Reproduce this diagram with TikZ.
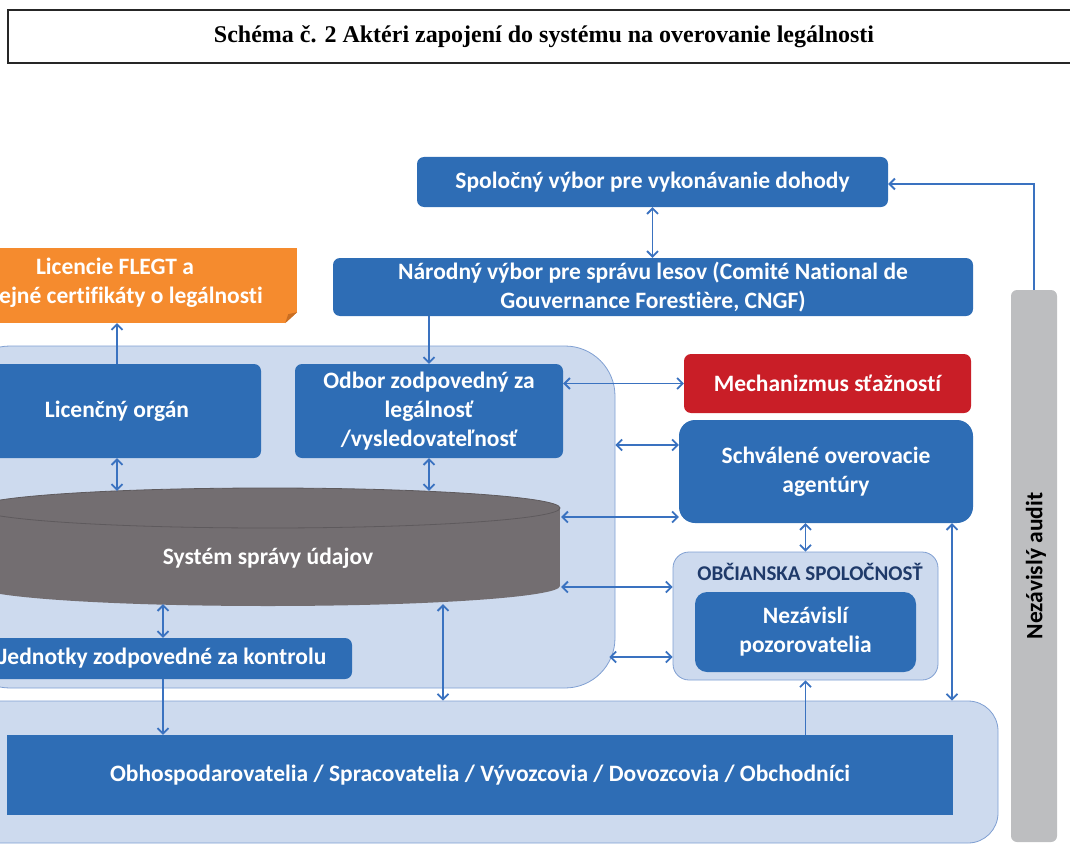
\documentclass[tikz,border=0pt]{standalone}
\usepackage{fontspec}
\setmainfont{Carlito}[Ligatures=NoCommon]
\newfontfamily\titlefont{Liberation Serif}
\usetikzlibrary{arrows.meta,calc}
\definecolor{boxblue}{HTML}{2E6DB5}
\definecolor{lightbg}{HTML}{CDDAEE}
\definecolor{lightedge}{HTML}{7F9FD2}
\definecolor{arrowblue}{HTML}{3A72C0}
\definecolor{mechred}{HTML}{C91E27}
\definecolor{flegtorange}{HTML}{F58B2E}
\definecolor{flegtfold}{HTML}{C96E22}
\definecolor{dbgray}{HTML}{736E71}
\definecolor{dbedge}{HTML}{5E5A5D}
\definecolor{auditgray}{HTML}{BDBEC0}
\definecolor{civtext}{HTML}{1F3A6A}
\begin{document}
\begin{tikzpicture}[x=1pt,y=-1pt,
  bluebox/.style={fill=boxblue, draw=none, rounded corners=7pt, text=white,
    font=\bfseries\fontsize{23.5}{29}\selectfont, align=center, inner sep=0pt},
  container/.style={fill=lightbg, draw=lightedge, line width=0.8pt, inner sep=0pt},
  conn/.style={draw=arrowblue, line width=1.8pt},
  >={Straight Barb[length=5.5pt,width=11pt]}
]
\useasboundingbox (0,0) rectangle (1070,845);
\clip (0,0) rectangle (1070,845);

% title
\node[draw=black!85, line width=1.3pt, minimum width=1072, minimum height=53, inner sep=0pt,
  font=\titlefont\bfseries\fontsize{24}{28}\selectfont] (title) at (544,36.5)
  {Schéma č. 2 Aktéri zapojení do systému na overovanie legálnosti};

% containers
\node[container, rounded corners=50pt, minimum width=655, minimum height=342] (topcont) at (287.5,517) {};
\node[container, rounded corners=30pt, minimum width=1038, minimum height=142] (botcont) at (479,772) {};
\node[container, rounded corners=16pt, minimum width=265, minimum height=128] (obc) at (805.5,616) {};
\node[font=\bfseries\fontsize{21}{24}\selectfont, text=civtext, inner sep=0pt] (obctitle) at (810,572) {OBČIANSKA SPOLOČNOSŤ};

% top boxes
\node[bluebox, minimum width=471, minimum height=50] (spol) at (652.5,182) {Spoločný výbor pre vykonávanie dohody};
\node[bluebox, minimum width=640, minimum height=58] (narod) at (653,287)
  {Národný výbor pre správu lesov (Comité National de\\Gouvernance Forestière, CNGF)};

% orange FLEGT box with folded corner
\node[fill=flegtorange, minimum width=367, minimum height=75, inner sep=0pt] (flegt) at (113.5,285.5) {};
\fill[white] ([xshift=-12pt]flegt.south east) -- (flegt.south east) -- ([yshift=11pt]flegt.south east) -- cycle;
\fill[flegtfold] ([xshift=-12pt]flegt.south east) -- ([xshift=-9pt,yshift=9pt]flegt.south east) -- ([yshift=11pt]flegt.south east) -- cycle;
\node[text=white, font=\bfseries\fontsize{23.5}{29}\selectfont, align=center, inner sep=0pt] (flegttext) at (131,283)
  {Licencie FLEGT a\hspace*{32pt}\\ejné certifikáty o legálnosti};

% inside top container
\node[bluebox, minimum width=288, minimum height=94] (licorg) at (117,411) {Licenčný orgán};
\node[bluebox, minimum width=268, minimum height=94] (odbor) at (429,411) {Odbor zodpovedný za\\legálnosť\\/vysledovateľnosť};

% database cylinder
\fill[dbgray] (-24,508) rectangle (560,586);
\fill[dbgray] (268,586) ellipse [x radius=292pt, y radius=20pt];
\filldraw[fill=dbgray, draw=dbedge, line width=0.8pt] (268,508) ellipse [x radius=292pt, y radius=20pt];
\node[minimum width=585, minimum height=113, inner sep=0pt] (db) at (268.5,547.5) {};
\node[text=white, font=\bfseries\fontsize{23.5}{28}\selectfont, inner sep=0pt] (dbtext) at (268,558) {Systém správy údajov};

\node[bluebox, minimum width=378, minimum height=41] (jedn) at (163,658.5) {Jednotky zodpovedné za kontrolu};
\node[bluebox, rounded corners=0pt, minimum width=946, minimum height=80] (obh) at (480,775)
  {Obhospodarovatelia / Spracovatelia / Vývozcovia / Dovozcovia / Obchodníci};

% right side
\node[bluebox, fill=mechred, minimum width=287, minimum height=59] (mech) at (827.5,383.5) {Mechanizmus sťažností};
\node[bluebox, rounded corners=16pt, minimum width=294, minimum height=103] (schv) at (826,471.5) {Schválené overovacie\\agentúry};
\node[bluebox, rounded corners=12pt, minimum width=221, minimum height=80] (nez) at (805.5,632) {Nezávislí\\pozorovatelia};

\node[fill=auditgray, rounded corners=6pt, minimum width=46, minimum height=552, inner sep=0pt] (audit) at (1034,566) {};
\node[rotate=90, font=\bfseries\fontsize{23.5}{28}\selectfont, text=black, inner sep=0pt] (audittext) at (1036,566) {Nezávislý audit};

% connectors
\coordinate (a13) at ([xshift=126pt]schv.south);
\coordinate (a17) at ([xshift=174.5pt]db.south);
\draw[conn,<->] (spol.south) -- (spol.south |- narod.north);
\draw[conn,->] (audit.north) |- ([yshift=-2pt]spol.east);
\draw[conn,->] (odbor.north |- narod.south) -- (odbor.north);
\draw[conn,->] (licorg.north) -- (licorg.north |- flegt.south);
\draw[conn,<->] (licorg.south) -- (licorg.south |- db.north);
\draw[conn,<->] (odbor.south) -- (odbor.south |- db.north);
\draw[conn,<->] (odbor.east |- mech.west) -- (mech.west);
\draw[conn,<->] ([yshift=72pt]topcont.east) -- ([yshift=26.5pt]schv.west);
\draw[conn,<->] ([yshift=30.5pt]db.east) -- ([yshift=-45.5pt]schv.west);
\draw[conn,<->] ([yshift=-39.5pt]db.east) -- ([yshift=29pt]obc.west);
\draw[conn,<->] ([yshift=-140pt,xshift=-6pt]topcont.east) -- ([yshift=-41pt]obc.west);
\draw[conn,<->] (obc.north |- schv.south) -- (obc.north);
\draw[conn,<->] (a13) -- (a13 |- botcont.north);
\draw[conn,->] (obh.north -| obc.south) -- (obc.south);
\draw[conn,<->] (jedn.north |- db.south) -- (jedn.north);
\draw[conn,->] (jedn.south) -- (jedn.south |- obh.north);
\draw[conn,<->] (a17) -- (a17 |- botcont.north);
\end{tikzpicture}
\end{document}
